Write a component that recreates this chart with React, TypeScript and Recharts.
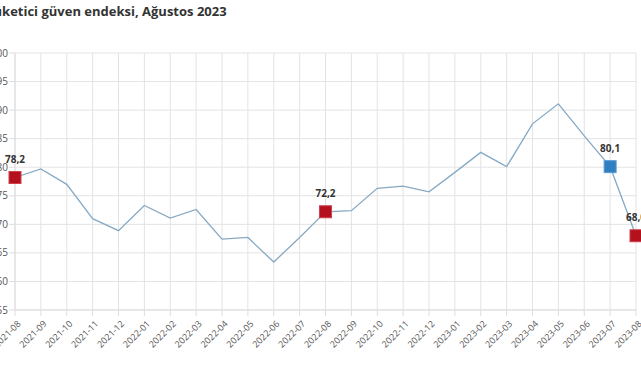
import { CartesianGrid, Line, LineChart, XAxis, YAxis } from 'recharts';

const months = [
  '2021-08', '2021-09', '2021-10', '2021-11', '2021-12',
  '2022-01', '2022-02', '2022-03', '2022-04', '2022-05', '2022-06', '2022-07',
  '2022-08', '2022-09', '2022-10', '2022-11', '2022-12',
  '2023-01', '2023-02', '2023-03', '2023-04', '2023-05', '2023-06', '2023-07', '2023-08',
];
const confidence = [
  78.2, 79.7, 77.0, 71.0, 68.9,
  73.3, 71.1, 72.6, 67.4, 67.7, 63.4, 67.7,
  72.2, 72.4, 76.3, 76.7, 75.7,
  79.1, 82.6, 80.1, 87.6, 91.1, 85.5, 80.1, 68.0,
];
const redMarks = ['2021-08', '2022-08', '2023-08'];
const blueMarks = ['2023-07'];
const yTicks = [55, 60, 65, 70, 75, 80, 85, 90, 95, 100];

const data = months.map((m, i) => ({ month: m, value: confidence[i] }));

const fmt = (v: number) => v.toFixed(1).replace('.', ',');

function Marker(props: any) {
  const { cx, cy, payload, index } = props;
  const red = redMarks.includes(payload.month);
  const blue = blueMarks.includes(payload.month);
  if (!red && !blue) return <g key={index} />;
  const fill = red ? '#b3121d' : '#2f7fc1';
  const stroke = red ? '#d04050' : '#5a9bd4';
  return (
    <g key={index}>
      <rect x={cx - 6} y={cy - 6} width={12} height={12} fill={fill} stroke={stroke} strokeWidth={1} />
      <text
        x={cx}
        y={cy - 15}
        textAnchor="middle"
        fontSize={10}
        fontWeight="bold"
        fill="#333"
        fontFamily="'Open Sans', sans-serif"
      >
        {fmt(payload.value)}
      </text>
    </g>
  );
}

function MonthTick(props: any) {
  const { x, y, payload } = props;
  return (
    <g transform={`translate(${x},${y})`}>
      <text
        x={0}
        y={0}
        dy={9}
        textAnchor="end"
        transform="rotate(-45)"
        fontSize={9}
        fill="#555"
        fontFamily="'Open Sans', sans-serif"
      >
        {payload.value}
      </text>
    </g>
  );
}

export default function App() {
  return (
    <div
      style={{
        position: 'fixed',
        left: 0,
        top: 0,
        width: 641,
        height: 380,
        overflow: 'hidden',
        background: '#fff',
      }}
    >
      <div
        style={{
          position: 'absolute',
          left: -14,
          top: 2,
          fontFamily: "'Open Sans', sans-serif",
          fontWeight: 'bold',
          fontSize: 13,
          color: '#333',
          whiteSpace: 'nowrap',
        }}
      >
        Tüketici güven endeksi, Ağustos 2023
      </div>
      <div style={{ position: 'absolute', left: -35, top: 0 }}>
        <LineChart
          width={676}
          height={380}
          data={data}
          margin={{ top: 53, right: 5, bottom: 0, left: 10 }}
        >
          <CartesianGrid stroke="#e3e3e3" />
          <XAxis
            dataKey="month"
            interval={0}
            height={70}
            tick={<MonthTick />}
            tickLine={{ stroke: '#ddd' }}
            axisLine={{ stroke: '#ddd' }}
          />
          <YAxis
            width={40}
            domain={[55, 100]}
            ticks={yTicks}
            tick={{ fontSize: 10, fill: '#555', fontFamily: "'Open Sans', sans-serif" }}
            tickLine={{ stroke: '#ddd' }}
            axisLine={{ stroke: '#ddd' }}
            tickMargin={1}
          />
          <Line
            type="linear"
            dataKey="value"
            stroke="#86a9c4"
            strokeWidth={1.3}
            dot={(p: any) => <Marker {...p} />}
            activeDot={false}
            isAnimationActive={false}
          />
        </LineChart>
      </div>
    </div>
  );
}
